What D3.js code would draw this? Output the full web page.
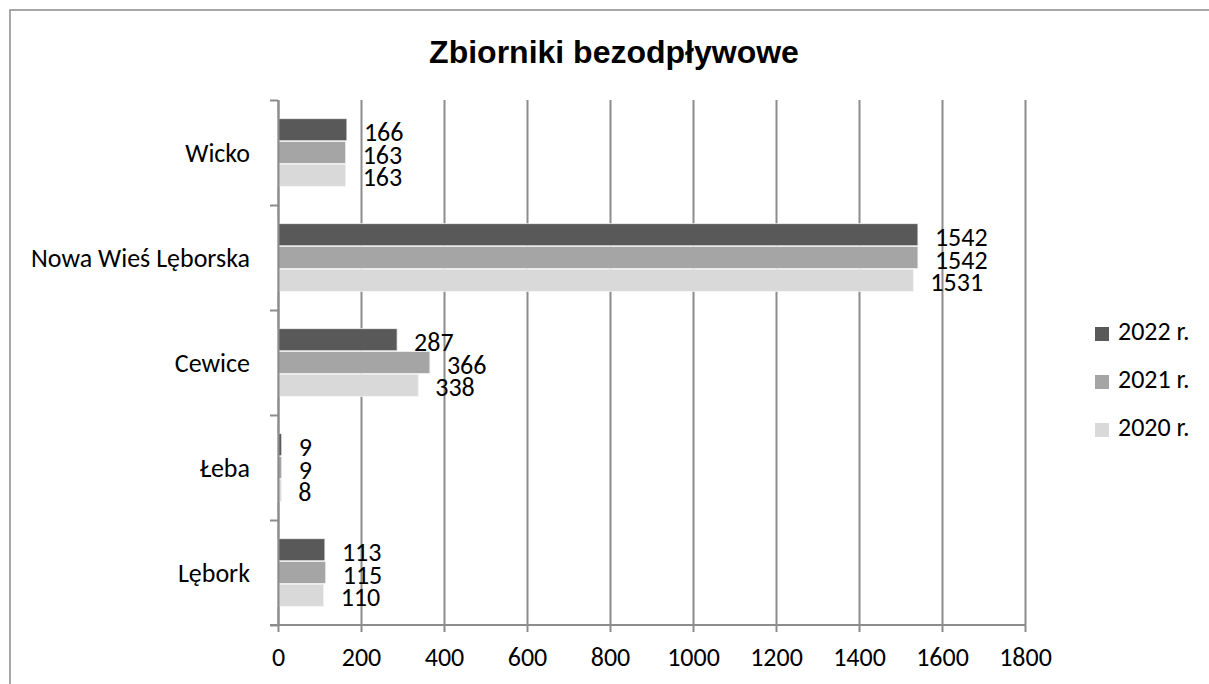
<!DOCTYPE html>
<html>
<head>
<meta charset="utf-8">
<script src="https://cdn.jsdelivr.net/npm/d3@7"></script>
<style>
	body { margin: 0; background: #fff; }
	svg { display: block; }
</style>
</head>
<body>
<div id="chart"></div>
<script>
	const categories = ['Wicko', 'Nowa Wieś Lęborska', 'Cewice', 'Łeba', 'Lębork']
	const seriesNames = ['2022 r.', '2021 r.', '2020 r.']
	const values2022 = [166, 1542, 287, 9, 113]
	const values2021 = [163, 1542, 366, 9, 115]
	const values2020 = [163, 1531, 338, 8, 110]
	const xTicks = [0, 200, 400, 600, 800, 1000, 1200, 1400, 1600, 1800]
	const colors = ['#595959', '#a5a5a5', '#d9d9d9']

	const width = 1209
	const height = 684
	const margins = { top: 100, left: 278, bottom: 59, right: 184 }
	const innerWidth = width - margins.left - margins.right
	const innerHeight = height - margins.top - margins.bottom
	const font = 'Carlito, Calibri, Lato, sans-serif'
	const fontSize = '26px'

	const series = [values2022, values2021, values2020]
	const rows = categories.map((c, i) => ({
		category: c,
		values: seriesNames.map((s, j) => ({ key: s, value: series[j][i], color: colors[j] }))
	}))

	const svg = d3.select('#chart')
		.append('svg')
		.attr('width', width)
		.attr('height', height)

	// outer frame, runs off the right and bottom edges like the source
	svg.append('rect')
		.attr('x', 10)
		.attr('y', 10)
		.attr('width', width + 20)
		.attr('height', height + 20)
		.attr('fill', 'none')
		.attr('stroke', '#8a8a8a')
		.attr('stroke-width', 1.5)

	svg.append('text')
		.text('Zbiorniki bezodpływowe')
		.attr('x', 614)
		.attr('y', 63)
		.attr('text-anchor', 'middle')
		.style('font-family', '"Liberation Sans", Arial, sans-serif')
		.style('font-weight', 'bold')
		.style('font-size', '32px')

	const x = d3.scaleLinear().domain([0, 1800]).range([0, innerWidth])
	const y = d3.scaleBand().domain(categories).range([0, innerHeight]).paddingInner(0.343).paddingOuter(0.1715)
	const ySub = d3.scaleBand().domain(seriesNames).range([0, y.bandwidth()]).padding(0.03)
	const yEdges = d3.scaleLinear().domain([0, categories.length]).range([0, innerHeight])

	const g = svg.append('g').attr('transform', `translate(${margins.left}, ${margins.top})`)

	// vertical gridlines
	g.append('g')
		.attr('class', 'grid')
		.call(d3.axisBottom(x).tickValues(xTicks).tickSize(innerHeight).tickFormat(''))
		.call((s) => s.select('.domain').remove())
		.call((s) => s.selectAll('line').attr('stroke', '#8c8c8c').attr('stroke-width', 2))

	// bars
	const groups = g.selectAll('.cat')
		.data(rows)
		.enter()
		.append('g')
		.attr('class', 'cat')
		.attr('transform', (d) => `translate(0, ${y(d.category)})`)

	groups.selectAll('rect')
		.data((d) => d.values)
		.enter()
		.append('rect')
		.attr('x', 0)
		.attr('y', (d) => ySub(d.key))
		.attr('width', (d) => x(d.value))
		.attr('height', ySub.bandwidth())
		.attr('fill', (d) => d.color)
		.attr('stroke', '#f2f2f2')
		.attr('stroke-width', 0.8)

	groups.selectAll('text')
		.data((d) => d.values)
		.enter()
		.append('text')
		.text((d) => d.value)
		.attr('x', (d) => x(d.value) + 17)
		.attr('y', (d) => ySub(d.key) + ySub.bandwidth() / 2 + 2)
		.attr('dy', '0.35em')
		.style('font-family', font)
		.style('font-size', fontSize)
		.attr('fill', '#000')

	// bottom axis
	g.append('g')
		.attr('transform', `translate(0, ${innerHeight})`)
		.call(d3.axisBottom(x).tickValues(xTicks).tickSize(7).tickPadding(16).tickSizeOuter(0).tickFormat(d3.format('d')))
		.call((s) => s.select('.domain').attr('stroke', '#8c8c8c').attr('stroke-width', 2).attr('d', `M-8,0H${innerWidth}`))
		.call((s) => s.selectAll('line').attr('stroke', '#8c8c8c').attr('stroke-width', 2))
		.call((s) => s.selectAll('text').style('font-family', font).style('font-size', fontSize).attr('fill', '#000'))

	// left axis with ticks between categories
	g.append('g')
		.call(d3.axisLeft(yEdges).ticks(categories.length).tickSize(8).tickFormat('').tickSizeOuter(0))
		.call((s) => s.select('.domain').attr('stroke', '#8c8c8c').attr('stroke-width', 2))
		.call((s) => s.selectAll('line').attr('stroke', '#8c8c8c').attr('stroke-width', 2))

	g.append('g')
		.selectAll('text')
		.data(categories)
		.enter()
		.append('text')
		.text((d) => d)
		.attr('x', -28)
		.attr('y', (d) => yEdges(categories.indexOf(d) + 0.5) + 9)
		.attr('text-anchor', 'end')
		.style('font-family', font)
		.style('font-size', fontSize)

	// legend
	const legend = svg.append('g')
		.selectAll('g')
		.data(seriesNames)
		.enter()
		.append('g')
		.attr('transform', (_, i) => `translate(1095, ${340 + i * 48})`)

	legend.append('rect')
		.attr('x', 0)
		.attr('y', -13)
		.attr('width', 14)
		.attr('height', 14)
		.attr('fill', (_, i) => colors[i])

	legend.append('text')
		.text((d) => d)
		.attr('x', 23)
		.attr('y', 0)
		.style('font-family', font)
		.style('font-size', fontSize)
</script>
</body>
</html>
